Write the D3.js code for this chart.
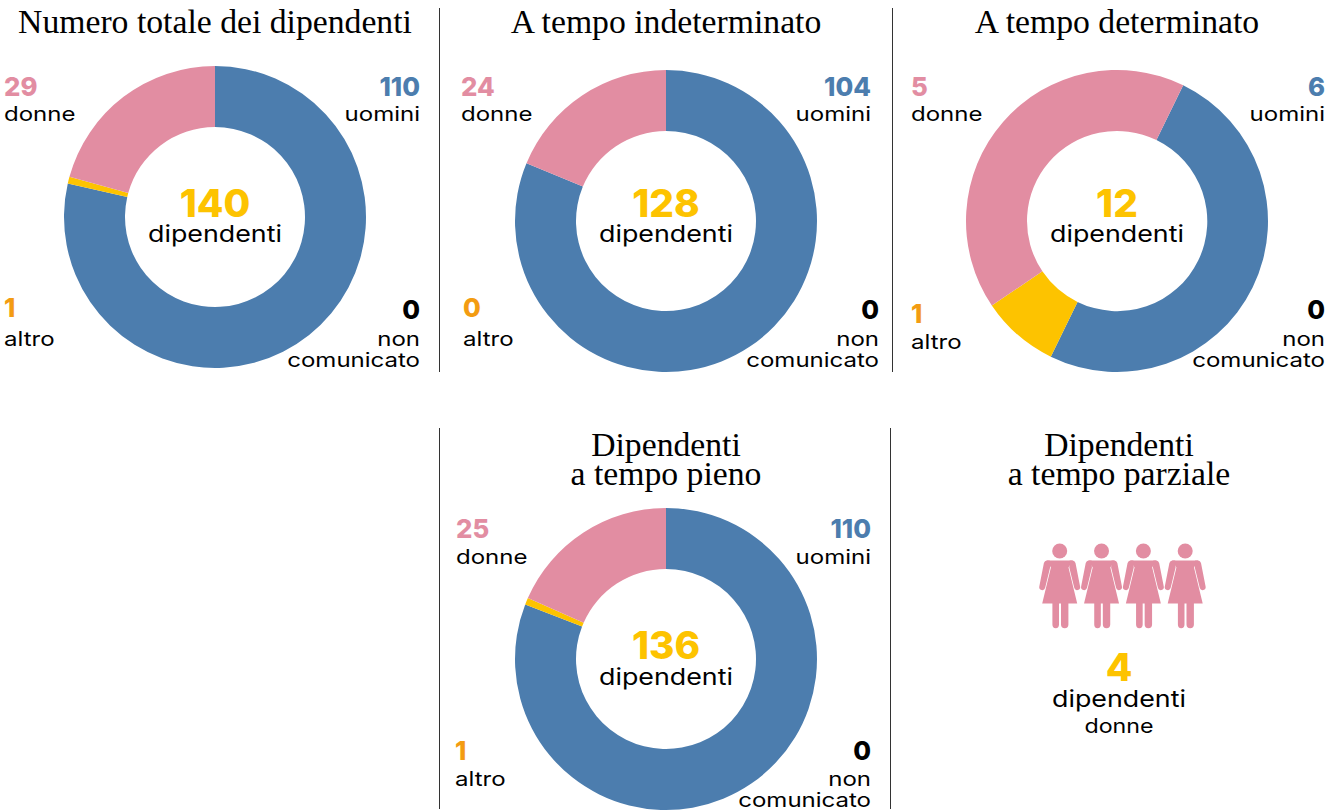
<!DOCTYPE html>
<html><head><meta charset="utf-8">
<script src="https://cdn.jsdelivr.net/npm/d3@7/dist/d3.min.js"></script>
<style>html,body{margin:0;padding:0;background:#fff}svg{display:block}</style></head>
<body><svg id="c" width="1341" height="811"></svg>
<script>
const panelTitles=[["Numero totale dei dipendenti"],["A tempo indeterminato"],["A tempo determinato"],["Dipendenti","a tempo pieno"]];
const totals=[140,128,12,136];
const uomini=[110,104,6,110];
const donne=[29,24,5,25];
const altro=[1,0,1,1];
const nonCom=[0,0,0,0];
const startDeg=[0,0,26,0];
const cxs=[215,666,1117,666];
const cys=[217,221,221,659];
const centerY=[217,217,217,659];
const R=151,r=90;
const colors={u:"#4c7dae",d:"#e28da2",a:"#fdc300",ax:"#f39c12",n:"#000"};
const labelPos=[
 {dx:4,dn:[96,121],ux:420,a:[4,317,346],nonx:420,n:[319,346,367]},
 {dx:461,dn:[96,121],ux:871,a:[463,317,346],nonx:879,n:[319,346,367]},
 {dx:911,dn:[96,121],ux:1325,a:[911,323,349],nonx:1325,n:[319,346,367]},
 {dx:456,dn:[538,564],ux:871,a:[455,760,786],nonx:871,n:[760,786,807]}];
const titleY=[[33],[33],[33],[456,485]];
const serif="'Liberation Serif','DejaVu Serif',serif";
const svg=d3.select("#c");
function T(x,y,s,o){
 const t=svg.append("text").attr("x",x).attr("y",y).text(s).attr("font-family",o.f||"Inter,'Noto Sans',sans-serif").attr("font-size",o.s).attr("font-weight",o.w||400).attr("fill",o.c||"#000").attr("text-anchor",o.a||"start");
 const k=o.k||1;
 if(k!==1){const L=t.node().getComputedTextLength();t.attr("textLength",L*k).attr("lengthAdjust","spacingAndGlyphs");}
 return t;
}
const LBL={s:20,k:1.2},DIP={s:23,k:1.165},NUM={s:26,w:800,k:0.99},BIG={s:38,w:800,k:1.02},TIT={f:serif,s:33.7};
[[439.5,8,372],[892.5,8,372],[439.5,428,809],[890.5,428,809]].forEach(l=>svg.append("line").attr("x1",l[0]).attr("x2",l[0]).attr("y1",l[1]).attr("y2",l[2]).attr("stroke","#333").attr("stroke-width",1));
const arc=d3.arc().innerRadius(r).outerRadius(R);
totals.forEach((t,i)=>{
 const ordered=[{k:"u",v:uomini[i]},{k:"a",v:altro[i]},{k:"d",v:donne[i]}];
 const s=startDeg[i]*Math.PI/180;
 const pie=d3.pie().sort(null).value(d=>d.v).startAngle(s).endAngle(s+2*Math.PI);
 const g=svg.append("g").attr("transform",`translate(${cxs[i]},${cys[i]})`);
 g.selectAll("path").data(pie(ordered)).join("path").attr("d",arc).attr("fill",d=>colors[d.data.k]);
 panelTitles[i].forEach((x,j)=>T(cxs[i],titleY[i][j],x,{...TIT,a:"middle"}));
 T(cxs[i],centerY[i],t,{...BIG,c:colors.a,a:"middle"});
 T(cxs[i],centerY[i]+(i===3?26:25),"dipendenti",{...DIP,a:"middle"});
 const p=labelPos[i];
 T(p.dx,p.dn[0],donne[i],{...NUM,c:colors.d});
 T(p.dx,p.dn[1],"donne",LBL);
 T(p.ux,p.dn[0],uomini[i],{...NUM,c:colors.u,a:"end"});
 T(p.ux,p.dn[1],"uomini",{...LBL,a:"end"});
 T(p.a[0],p.a[1],altro[i],{...NUM,c:colors.ax});
 T(p.a[0],p.a[2],"altro",LBL);
 T(p.nonx,p.n[0],nonCom[i],{...NUM,a:"end"});
 T(p.nonx,p.n[1],"non",{...LBL,a:"end"});
 T(p.nonx,p.n[2],"comunicato",{...LBL,a:"end"});
});
const ptTitle=["Dipendenti","a tempo parziale"];
ptTitle.forEach((s,j)=>T(1119,[456,485][j],s,{...TIT,a:"middle"}));
const ptCount=[1,2,3,4];
const xP=d3.scalePoint().domain(ptCount).range([1059.7,1185.2]);
ptCount.forEach(k=>{
 const g=svg.append("g").attr("transform",`translate(${xP(k)},543.5)`).attr("fill",colors.d);
 g.append("circle").attr("cx",0).attr("cy",7.5).attr("r",7.5);
 g.append("path").attr("d","M-13,17 H13 L8.8,24 L17.5,60 H8.7 V81 a3.7,3.7 0 0 1 -7.4,0 V60 H-0.7 V81 a3.3,3.7 0 0 1 -6.6,0 V60 H-17.5 L-8.8,24 Z");
 [1,-1].forEach(m=>g.append("path").attr("transform",`scale(${m},1)`).attr("d","M10,17 H13 Q15,17 15.8,19.5 L20.4,43 a3,3 0 0 1 -5.8,1.5 L9.6,24 Z"));
});
T(1119,681,"4",{...BIG,c:colors.a,a:"middle"});
T(1119,707,"dipendenti",{...DIP,a:"middle"});
T(1119,733,"donne",{s:20,k:1.16,a:"middle"});
</script></body></html>
